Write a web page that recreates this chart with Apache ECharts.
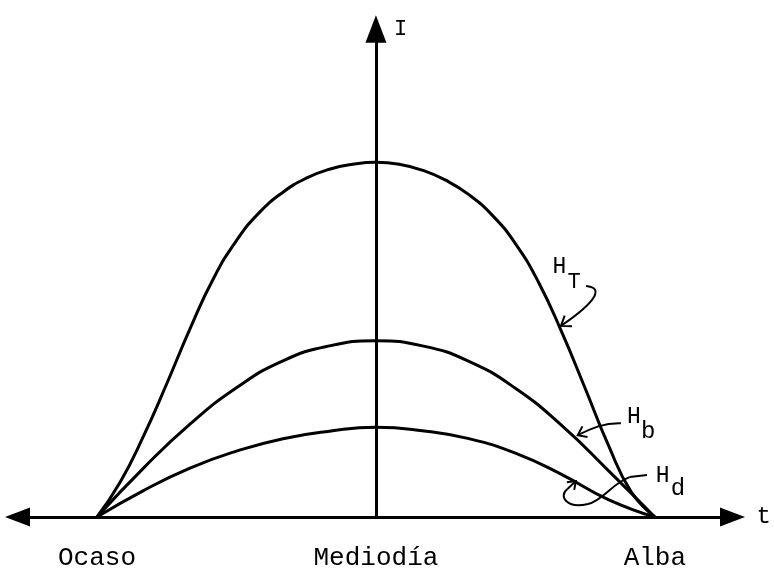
<!DOCTYPE html>
<html><head><meta charset="utf-8">
<script src="https://cdn.jsdelivr.net/npm/echarts@6/dist/echarts.min.js"></script>
<style>html,body{margin:0;padding:0;background:#fff}#c{width:774px;height:576px}</style>
</head><body><div id="c"></div><script>
// ---- data (x: hours from solar noon, y: irradiance I, arbitrary units) ----
const tickValues = [-6, 0, 6];
const tickLabels = ['Ocaso', 'Mediodía', 'Alba'];
const axisNames = ['t', 'I'];
const seriesNames = ['H_T', 'H_b', 'H_d'];
const hT = [[-6,0],[-5.5,7.0],[-5,16.2],[-4.5,26.7],[-4,37.7],[-3.5,47.7],[-3,55.4],[-2.5,61.1],[-2,65.1],[-1.5,67.9],[-1,69.7],[-0.5,70.7],[0,71.1],[0.5,70.7],[1,69.5],[1.5,67.5],[2,64.6],[2.5,60.5],[3,54.8],[3.5,47.0],[4,37.0],[4.5,25.8],[5,14.4],[5.5,4.9],[6,0]];
const hB = [[-6,0],[-5,9.8],[-4,18.6],[-3,25.9],[-2,31.3],[-1,34.3],[0,35.3],[1,34.3],[2,31.2],[3,25.8],[4,18.3],[5,9.3],[6,0]];
const hD = [[-6,0],[-5,5.3],[-4,9.8],[-3,13.2],[-2,15.7],[-1,17.2],[0,18.0],[1,17.3],[2,15.7],[3,12.8],[4,8.5],[5,3.5],[6,0]];
const labelMain = ['H', 'H', 'H'];
const labelSub = ['T', 'b', 'd'];

const chart = echarts.init(document.getElementById('c'), null, {renderer: 'canvas'});
const FONT = '"Liberation Mono", "Courier New", monospace';
const lineStyle = {color: '#000', width: 3};
const ARROW = 'path://M10,0 L20,26 L0,26 Z';

chart.setOption({
  backgroundColor: '#fff',
  animation: false,
  grid: {left: 17.5, right: 41.5, top: 29, bottom: 59},
  xAxis: {
    type: 'value', min: -7.71, max: 7.67,
    name: axisNames[0], nameLocation: 'end', nameGap: 24,
    nameTextStyle: {fontFamily: FONT, fontSize: 24, color: '#000', align: 'left', verticalAlign: 'middle'},
    axisLine: {lineStyle: {color: '#000', width: 3}, symbol: [ARROW, ARROW], symbolSize: [22, 25]},
    axisTick: {show: false},
    splitLine: {show: false},
    axisLabel: {
      customValues: tickValues, margin: 28, color: '#000', fontFamily: FONT, fontSize: 26,
      formatter: v => { const i = tickValues.indexOf(v); return i >= 0 ? tickLabels[i] : ''; }
    }
  },
  yAxis: {
    type: 'value', min: 0, max: 97.8,
    name: axisNames[1], nameLocation: 'end', nameGap: 0,
    nameTextStyle: {fontFamily: FONT, fontSize: 22, color: '#000', align: 'left', verticalAlign: 'middle', padding: [0, 0, 8, 18]},
    axisLine: {onZero: true, lineStyle: {color: '#000', width: 3}, symbol: ['none', ARROW], symbolSize: [21, 28]},
    axisTick: {show: false},
    splitLine: {show: false},
    axisLabel: {show: false}
  },
  series: [hT, hB, hD].map((d, i) => ({
    name: seriesNames[i], type: 'line', data: d, smooth: 0.5, showSymbol: false,
    lineStyle: lineStyle, z: 3
  }))
});

// ---- annotations (positions in data coordinates) ----
const P = (t, v) => chart.convertToPixel({gridIndex: 0}, [t, v]);
function head(tip, from, len) {
  const dx = from[0] - tip[0], dy = from[1] - tip[1];
  const a = Math.atan2(dy, dx), s = Math.PI / 5;
  return {type: 'polyline', silent: true, z: 10,
    shape: {points: [[tip[0] + len * Math.cos(a + s), tip[1] + len * Math.sin(a + s)], tip,
                     [tip[0] + len * Math.cos(a - s), tip[1] + len * Math.sin(a - s)]]},
    style: {stroke: '#000', lineWidth: 2, fill: null}};
}
function bez(p0, c1, c2, p1) {
  return {type: 'bezierCurve', silent: true, z: 10,
    shape: {x1: p0[0], y1: p0[1], cpx1: c1[0], cpy1: c1[1], cpx2: c2[0], cpy2: c2[1], x2: p1[0], y2: p1[1]},
    style: {stroke: '#000', lineWidth: 2, fill: null}};
}
function seg(p0, p1) {
  return {type: 'line', silent: true, z: 10, shape: {x1: p0[0], y1: p0[1], x2: p1[0], y2: p1[1]},
    style: {stroke: '#000', lineWidth: 2}};
}
function txt(p, s, size) {
  return {type: 'text', silent: true, z: 10, x: p[0], y: p[1],
    style: {text: s, fontFamily: FONT, fontSize: size, fill: '#000', align: 'left', verticalAlign: 'top'}};
}
const g = [];
// H_T
g.push(txt(P(3.80, 52.5), labelMain[0], 23), txt(P(4.12, 49.3), labelSub[0], 22));
{ const a = P(4.52, 46.3), c1 = P(4.88, 46.0), c2 = P(4.80, 43.5), b = P(3.98, 38.3);
  g.push(bez(a, c1, c2, b), head(b, c2, 11)); }
// H_b
g.push(txt(P(5.40, 22.4), labelMain[1], 23), txt(P(5.70, 19.6), labelSub[1], 24));
{ const a = P(5.27, 18.8), c1 = P(4.90, 18.9), c2 = P(4.65, 17.8), b = P(4.34, 16.4);
  g.push(bez(a, c1, c2, b), head(b, c2, 10)); }
// H_d
g.push(txt(P(6.02, 10.6), labelMain[2], 23), txt(P(6.34, 8.0), labelSub[2], 24));
{ const a = P(5.83, 8.4), b = P(5.46, 8.0);
  const c1 = P(5.08, 6.8), c2 = P(4.90, 3.4), d = P(4.56, 2.6);
  const e1 = P(4.10, 1.6), e2 = P(3.92, 4.2), f = P(4.12, 5.6), tip = P(4.30, 7.2);
  g.push(seg(a, b), bez(b, c1, c2, d), bez(d, e1, e2, f), seg(f, tip), head(tip, f, 9)); }
chart.setOption({graphic: g});
</script></body></html>
